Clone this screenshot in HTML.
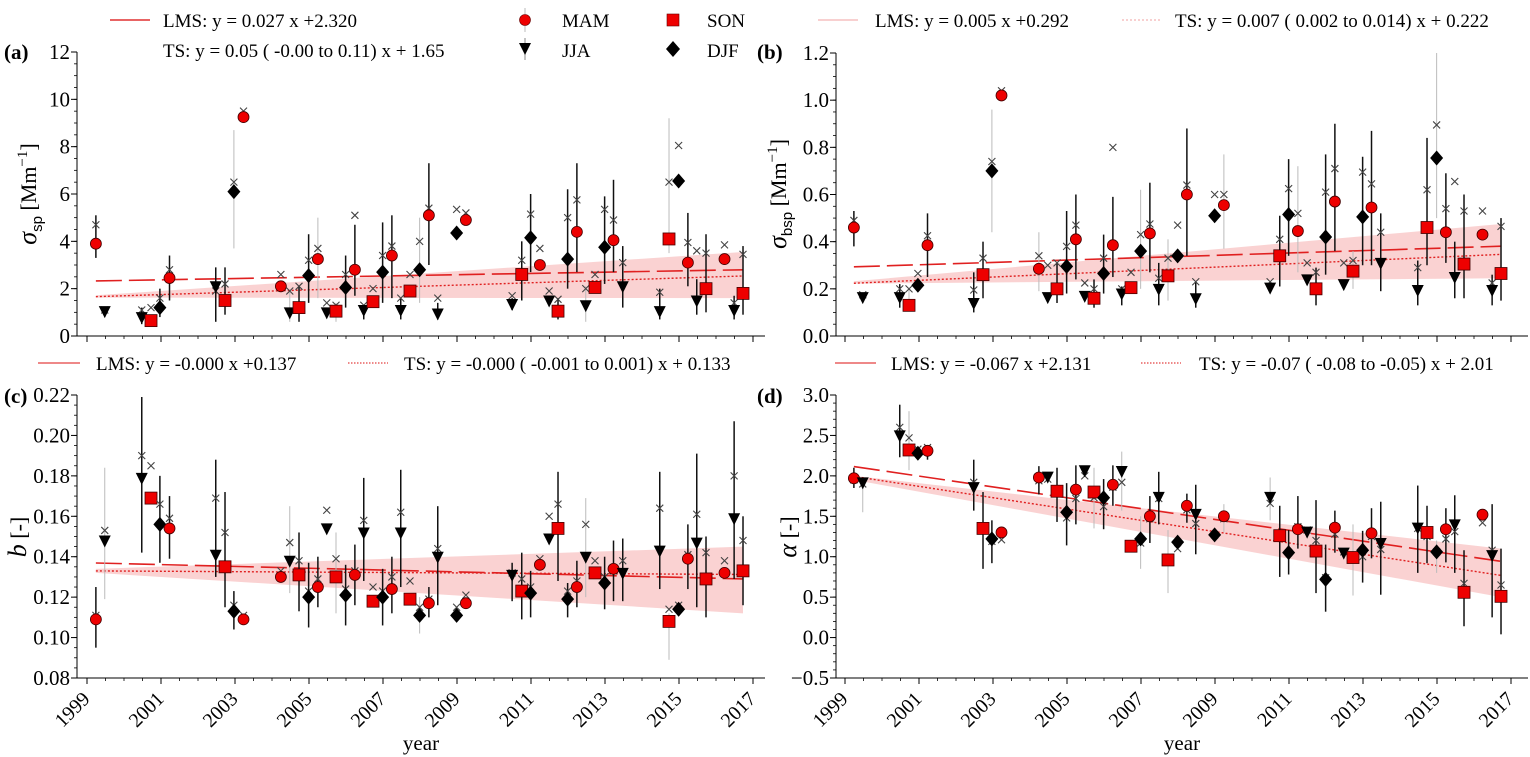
<!DOCTYPE html>
<html><head><meta charset="utf-8"><style>
html,body{margin:0;padding:0;background:#fff;}
svg{display:block;font-family:"Liberation Serif",serif;}
</style></head><body>
<svg id="fig" width="1530" height="757" viewBox="0 0 1530 757" xmlns="http://www.w3.org/2000/svg">
<g font-size="19">
 <line x1="110" y1="20" x2="150" y2="20" stroke="#e03030" stroke-width="1.5"/>
 <text x="163" y="27">LMS: y = 0.027 x +2.320</text>
 <text x="163" y="57">TS: y = 0.05 ( -0.00 to  0.11) x + 1.65</text>
 <line x1="525" y1="8" x2="525" y2="32" stroke="#bbb" stroke-width="1"/>
 <circle cx="525" cy="20" r="5.5" fill="#e00" stroke="#600" stroke-width="0.6"/>
 <text x="562" y="27">MAM</text>
 <line x1="525" y1="38" x2="525" y2="60" stroke="#888" stroke-width="1"/>
 <path d="M519,43 L531,43 L525,55 Z" fill="#000"/>
 <text x="562" y="57">JJA</text>
 <rect x="667" y="14" width="12" height="12" fill="#e00" stroke="#600" stroke-width="0.6"/>
 <text x="707" y="27">SON</text>
 <path d="M673,41 L680,49 L673,57 L666,49 Z" fill="#000"/>
 <text x="707" y="57">DJF</text>
 <line x1="818" y1="20" x2="858" y2="20" stroke="#f2a0a0" stroke-width="1"/>
 <text x="875" y="27">LMS: y = 0.005 x +0.292</text>
 <line x1="1122" y1="20" x2="1162" y2="20" stroke="#f2a0a0" stroke-width="1" stroke-dasharray="2,2"/>
 <text x="1175" y="27">TS: y = 0.007 ( 0.002 to  0.014) x + 0.222</text>
 <line x1="38" y1="363" x2="80" y2="363" stroke="#e88" stroke-width="2"/>
 <text x="96" y="370">LMS: y = -0.000 x +0.137</text>
 <line x1="348" y1="363" x2="388" y2="363" stroke="#e88" stroke-width="2" stroke-dasharray="1.5,1.5"/>
 <text x="404" y="370">TS: y = -0.000 ( -0.001 to  0.001) x + 0.133</text>
 <line x1="835" y1="363" x2="876" y2="363" stroke="#e88" stroke-width="2"/>
 <text x="891" y="370">LMS: y = -0.067 x +2.131</text>
 <line x1="1141" y1="363" x2="1181" y2="363" stroke="#e88" stroke-width="2" stroke-dasharray="1.5,1.5"/>
 <text x="1199" y="370">TS: y = -0.07 ( -0.08 to  -0.05) x + 2.01</text>
</g>
<g font-size="21" font-weight="bold">
 <text x="4" y="59">(a)</text>
 <text x="757" y="59">(b)</text>
 <text x="4" y="403">(c)</text>
 <text x="757" y="403">(d)</text>
</g>
<text transform="translate(36,194) rotate(-90)" text-anchor="middle" font-size="22"><tspan font-style="italic" font-size="26">σ</tspan><tspan font-size="15" dy="6" font-family="Liberation Sans,sans-serif">sp</tspan><tspan dy="-6"> [Mm</tspan><tspan font-size="15" dy="-9">−1</tspan><tspan dy="9">]</tspan></text>
<text transform="translate(786,194) rotate(-90)" text-anchor="middle" font-size="22"><tspan font-style="italic" font-size="26">σ</tspan><tspan font-size="15" dy="6" font-family="Liberation Sans,sans-serif">bsp</tspan><tspan dy="-6"> [Mm</tspan><tspan font-size="15" dy="-9">−1</tspan><tspan dy="9">]</tspan></text>
<text transform="translate(26,537) rotate(-90)" text-anchor="middle" font-size="22"><tspan font-style="italic" font-size="26">b</tspan> [-]</text>
<text transform="translate(796,537) rotate(-90)" text-anchor="middle" font-size="22"><tspan font-style="italic" font-size="26">α</tspan> [-]</text>
<text x="421" y="750" text-anchor="middle" font-size="21">year</text>
<text x="1182" y="750" text-anchor="middle" font-size="21">year</text>
</svg>
<script>
const years=[1999.24,1999.48,2000.48,2000.73,2000.97,2001.23,2002.48,2002.73,2002.97,2003.23,2004.24,2004.48,2004.73,2004.99,2005.24,2005.48,2005.73,2005.99,2006.24,2006.48,2006.73,2006.99,2007.24,2007.48,2007.73,2007.99,2008.24,2008.48,2008.99,2009.24,2010.49,2010.75,2010.99,2011.24,2011.49,2011.73,2011.99,2012.24,2012.48,2012.73,2012.99,2013.23,2013.48,2014.48,2014.73,2014.99,2015.24,2015.48,2015.73,2016.23,2016.49,2016.73];
const seasons=["MAM","JJA","JJA","SON","DJF","MAM","JJA","SON","DJF","MAM","MAM","JJA","SON","DJF","MAM","JJA","SON","DJF","MAM","JJA","SON","DJF","MAM","JJA","SON","DJF","MAM","JJA","DJF","MAM","JJA","SON","DJF","MAM","JJA","SON","DJF","MAM","JJA","SON","DJF","MAM","JJA","JJA","SON","DJF","MAM","JJA","SON","MAM","JJA","SON"];
const xTickYears=[1999,2001,2003,2005,2007,2009,2011,2013,2015,2017];

const aVal=[3.9,1.05,0.8,0.65,1.2,2.45,2.1,1.5,6.1,9.25,2.1,1.0,1.2,2.55,3.25,1.0,1.05,2.05,2.8,1.1,1.45,2.7,3.4,1.1,1.9,2.8,5.1,0.95,4.35,4.9,1.35,2.6,4.15,3.0,1.5,1.05,3.25,4.4,1.3,2.05,3.75,4.05,2.1,1.05,4.1,6.55,3.1,1.5,2.0,3.25,1.1,1.8];
const aLo=[3.3,0.8,0.5,0.55,0.8,1.5,0.6,0.9,3.7,9.25,1.9,0.6,0.6,1.4,1.6,0.9,0.6,1.2,1.7,0.7,1.3,1.4,1.6,0.7,1.7,1.4,3.0,0.7,4.35,4.8,1.1,1.5,2.7,2.9,1.4,0.7,2.0,2.7,0.6,1.9,2.2,2.7,1.2,0.7,3.5,6.55,2.1,0.9,1.0,3.15,0.7,0.9];
const aHi=[5.1,1.2,1.2,0.8,2.0,3.4,2.9,2.9,8.7,9.25,2.3,1.9,2.1,4.3,5.0,1.1,1.4,3.4,4.7,1.3,1.6,4.8,5.1,1.6,2.1,5.0,7.3,1.4,4.35,5.0,1.6,4.0,6.0,3.1,1.6,1.6,6.2,7.3,2.1,2.2,5.9,6.6,3.8,2.0,9.2,6.55,5.2,2.4,4.3,3.35,1.7,3.8];
const aCross=[4.7,1.1,1.1,1.2,1.6,2.8,1.9,2.2,6.5,9.5,2.6,1.9,2.1,3.2,3.7,1.4,1.3,2.6,5.1,1.3,2.0,3.4,3.8,1.6,2.6,4.0,5.4,1.6,5.35,5.2,1.7,3.2,5.15,3.7,1.9,1.55,5.0,5.75,2.0,2.6,5.35,4.9,3.1,1.85,6.5,8.05,3.95,3.6,3.5,3.85,1.4,3.45];
const aGray=[9,12,15,17,26,39,45];
const aBand=[1.62,1.72,1.6,3.55];
const aFit=[0.027,2.320,0.05,1.65];

const bVal=[0.46,0.165,0.165,0.13,0.215,0.385,0.14,0.26,0.7,1.02,0.285,0.165,0.2,0.295,0.41,0.17,0.16,0.265,0.385,0.18,0.205,0.36,0.435,0.2,0.255,0.34,0.6,0.16,0.51,0.555,0.205,0.34,0.515,0.445,0.24,0.2,0.42,0.57,0.22,0.275,0.505,0.545,0.31,0.195,0.46,0.755,0.44,0.25,0.305,0.43,0.195,0.265];
const bLo=[0.38,0.155,0.12,0.13,0.2,0.25,0.1,0.16,0.44,1.01,0.19,0.16,0.14,0.18,0.24,0.16,0.12,0.18,0.25,0.13,0.19,0.2,0.27,0.13,0.15,0.33,0.34,0.12,0.5,0.37,0.19,0.21,0.34,0.27,0.23,0.13,0.26,0.36,0.21,0.2,0.3,0.3,0.19,0.13,0.3,0.5,0.31,0.16,0.16,0.42,0.13,0.15];
const bHi=[0.53,0.18,0.22,0.2,0.23,0.52,0.27,0.4,0.96,1.03,0.44,0.17,0.31,0.53,0.6,0.18,0.24,0.43,0.59,0.21,0.22,0.62,0.65,0.31,0.41,0.35,0.88,0.23,0.52,0.77,0.22,0.51,0.75,0.72,0.25,0.29,0.77,0.9,0.23,0.36,0.76,0.87,0.52,0.32,0.84,1.2,0.69,0.4,0.6,0.44,0.26,0.5];
const bCross=[0.49,0.175,0.2,0.2,0.265,0.425,0.195,0.33,0.74,1.04,0.34,0.3,0.31,0.38,0.47,0.225,0.2,0.33,0.8,0.2,0.27,0.43,0.475,0.245,0.33,0.47,0.64,0.23,0.6,0.6,0.23,0.41,0.625,0.52,0.31,0.27,0.61,0.71,0.31,0.32,0.695,0.645,0.44,0.29,0.62,0.895,0.54,0.655,0.53,0.53,0.225,0.465];
const bGray=[4,9,11,22,25,30,31,34,40,46];
const bBand=[0.222,0.232,0.245,0.475];
const bFit=[0.005,0.292,0.007,0.222];

const cVal=[0.109,0.148,0.179,0.169,0.156,0.154,0.141,0.135,0.113,0.109,0.130,0.138,0.131,0.120,0.125,0.154,0.130,0.121,0.131,0.152,0.118,0.120,0.124,0.152,0.119,0.111,0.117,0.140,0.111,0.117,0.131,0.123,0.122,0.136,0.149,0.154,0.119,0.125,0.140,0.132,0.127,0.134,0.132,0.143,0.108,0.114,0.139,0.147,0.129,0.132,0.159,0.133];
const cLo=[0.095,0.119,0.142,0.168,0.137,0.139,0.13,0.115,0.104,0.108,0.129,0.122,0.113,0.105,0.115,0.153,0.112,0.106,0.116,0.128,0.117,0.106,0.112,0.125,0.118,0.102,0.11,0.116,0.110,0.116,0.118,0.109,0.11,0.135,0.148,0.128,0.11,0.115,0.12,0.131,0.114,0.118,0.118,0.124,0.089,0.113,0.124,0.115,0.11,0.131,0.129,0.116];
const cHi=[0.125,0.184,0.219,0.170,0.18,0.17,0.188,0.172,0.123,0.110,0.131,0.165,0.152,0.137,0.14,0.155,0.152,0.136,0.146,0.179,0.119,0.134,0.14,0.183,0.120,0.12,0.125,0.165,0.112,0.118,0.137,0.142,0.133,0.137,0.150,0.182,0.127,0.138,0.169,0.133,0.14,0.148,0.149,0.182,0.112,0.115,0.156,0.191,0.15,0.133,0.207,0.16];
const cCross=[0.111,0.153,0.19,0.185,0.166,0.159,0.169,0.152,0.116,0.111,0.133,0.147,0.138,0.123,0.129,0.163,0.139,0.124,0.133,0.158,0.125,0.123,0.13,0.162,0.128,0.115,0.119,0.144,0.115,0.121,0.132,0.129,0.125,0.139,0.160,0.166,0.123,0.128,0.156,0.138,0.130,0.133,0.138,0.164,0.114,0.116,0.141,0.161,0.142,0.138,0.18,0.148];
const cGray=[2,12,17,26,39,45];
const cBand=[0.132,0.134,0.112,0.145];
const cFit=[-0.00045,0.137,-0.0001,0.133];

const dVal=[1.97,1.92,2.5,2.32,2.28,2.31,1.86,1.35,1.22,1.3,1.98,1.99,1.81,1.55,1.83,2.07,1.8,1.73,1.89,2.06,1.13,1.22,1.5,1.74,0.96,1.18,1.63,1.53,1.27,1.5,1.74,1.26,1.05,1.34,1.31,1.07,0.72,1.36,1.05,0.99,1.08,1.29,1.17,1.36,1.3,1.06,1.34,1.4,0.56,1.52,1.02,0.51];
const dLo=[1.85,1.55,2.23,2.07,2.27,2.2,1.57,0.85,0.92,1.29,1.77,1.98,1.43,1.14,1.4,2.06,1.35,1.34,1.63,1.57,1.12,0.85,1.17,1.4,0.55,1.17,1.42,1.03,1.26,1.3,1.45,0.75,0.78,1.1,1.3,0.55,0.32,1.05,1.04,0.52,0.68,0.98,0.53,0.8,0.92,0.8,0.93,0.8,0.14,1.51,0.25,0.04];
const dHi=[2.1,1.95,2.88,2.8,2.29,2.37,2.2,1.8,1.45,1.31,2.12,2.0,2.1,1.91,2.13,2.08,2.1,1.96,2.13,2.3,1.14,1.5,1.75,2.05,1.33,1.19,1.78,1.89,1.28,1.65,1.98,1.63,1.33,1.75,1.32,1.7,1.15,1.57,1.06,1.4,1.32,1.6,1.68,1.88,1.63,1.2,1.6,1.76,1.08,1.53,1.65,1.1];
const dCross=[1.95,1.9,2.6,2.47,2.33,2.35,1.92,1.37,1.19,1.21,1.94,1.96,1.8,1.48,1.72,2.0,1.73,1.62,1.86,1.92,1.13,1.17,1.47,1.72,0.95,1.1,1.58,1.41,1.27,1.47,1.66,1.27,1.05,1.37,1.33,1.2,0.74,1.28,1.06,1.02,1.0,1.25,1.09,1.35,1.25,1.06,1.22,1.31,0.67,1.42,1.08,0.65];
const dGray=[2,4,17,20,22,25,30,31,40,46];
const dBand=[1.95,2.0,0.5,1.1];
const dFit=[-0.067,2.131,-0.07,2.01];

const NS="http://www.w3.org/2000/svg";
const svg=document.getElementById('fig');
function mk(tag,attrs,parent){const e=document.createElementNS(NS,tag);for(const k in attrs)e.setAttribute(k,attrs[k]);(parent||svg).appendChild(e);return e;}

function panel(id,geo,vals,lo,hi,cross,gray,band,fit,yTicks,fmt,minorStep,showX){
  const g=mk('g',{});
  
  
  const xs=yr=>geo.x0+37*(yr-1999);
  const ys=v=>geo.yb+(v-geo.vmin)/(geo.vmax-geo.vmin)*(geo.yt-geo.yb);
  const t0=years[0],t1=years[years.length-1];
  const bp=mk('path',{d:`M${xs(t0)},${ys(band[0])} L${xs(t1)},${ys(band[2])} L${xs(t1)},${ys(band[3])} L${xs(t0)},${ys(band[1])} Z`,fill:'#f7b4b4','fill-opacity':0.6,stroke:'none'},g);
  
  
  const f=(s,b,yr)=>b+s*(yr-1999);
  const l1=mk('line',{x1:xs(t0),y1:ys(f(fit[0],fit[1],t0)),x2:xs(t1),y2:ys(f(fit[0],fit[1],t1)),stroke:'#e02020','stroke-width':1.6,'stroke-dasharray':'26,7'},g);
  
  
  const l2=mk('line',{x1:xs(t0),y1:ys(f(fit[2],fit[3],t0)),x2:xs(t1),y2:ys(f(fit[2],fit[3],t1)),stroke:'#e02020','stroke-width':1.4,'stroke-dasharray':'2,2'},g);
  
  
  const ax=mk('path',{d:`M${geo.axL},${geo.yt} L${geo.axL},${geo.yb} L${geo.axR},${geo.yb}`,fill:'none',stroke:'#000','stroke-width':1},g);
  
  
  yTicks.forEach(v=>{
    const y=ys(v);
    mk('line',{x1:geo.axL-6,y1:y,x2:geo.axL,y2:y,stroke:'#000'},g);
    const t=mk('text',{x:geo.axL-7,y:y+7,'text-anchor':'end','font-size':21},g);
    t.textContent=fmt(v);
    
    
  });
  for(let v=geo.vmin;v<=geo.vmax+1e-9;v+=minorStep){mk('line',{x1:geo.axL-3,y1:ys(v),x2:geo.axL,y2:ys(v),stroke:'#000','stroke-width':0.8},g);}
  for(let yr=1999;yr<=2017.01;yr+=0.5){const maj=Math.abs(yr-Math.round(yr))<0.01&&Math.round(yr)%2===1;mk('line',{x1:xs(yr),y1:geo.yb,x2:xs(yr),y2:geo.yb+(maj?6:3),stroke:'#000','stroke-width':maj?1:0.8},g);}
  if(showX){
    xTickYears.forEach(yr=>{
      const x=xs(yr),y=geo.yb+10;
      const t=mk('text',{x:x+4,y:y+12,'text-anchor':'end','font-size':20,transform:`rotate(-45 ${x+4} ${y+12})`},g);
      t.textContent=yr;
      
      
    });
  }
  vals.forEach((v,i)=>{
    const x=xs(years[i]);
    const isGray=gray.indexOf(i+1)>=0;
    if(hi[i]-lo[i]>0){
      const eb=mk('line',{x1:x,y1:ys(lo[i]),x2:x,y2:ys(hi[i]),stroke:isGray?'#bbb':'#111','stroke-width':isGray?1:1.5},g);
      
      
    }
    const cy=ys(cross[i]);
    const cr=mk('path',{d:`M${x-3.5},${cy-3.5} L${x+3.5},${cy+3.5} M${x-3.5},${cy+3.5} L${x+3.5},${cy-3.5}`,stroke:'#444','stroke-width':1.1},g);
    
    
    const y=ys(v);let m;const s=seasons[i];
    if(s==='MAM')m=mk('circle',{cx:x,cy:y,r:5.5,fill:'#e00',stroke:'#400','stroke-width':0.8},g);
    else if(s==='SON')m=mk('rect',{x:x-6,y:y-6,width:12,height:12,fill:'#e00',stroke:'#400','stroke-width':0.8},g);
    else if(s==='JJA')m=mk('path',{d:`M${x-6},${y-5} L${x+6},${y-5} L${x},${y+7} Z`,fill:'#000'},g);
    else m=mk('path',{d:`M${x},${y-7.5} L${x+6.5},${y} L${x},${y+7.5} L${x-6.5},${y} Z`,fill:'#000'},g);
    
    
  });
}
const r1=v=>v.toFixed(1).replace('-','−');
panel('a',{x0:87,axL:77,axR:765,yt:52,yb:336,vmin:0,vmax:12},aVal,aLo,aHi,aCross,aGray,aBand,aFit,[0,2,4,6,8,10,12],v=>String(v),0.5,false);
panel('b',{x0:845,axL:836,axR:1528,yt:53,yb:336,vmin:0,vmax:1.2},bVal,bLo,bHi,bCross,bGray,bBand,bFit,[0,0.2,0.4,0.6,0.8,1.0,1.2],r1,0.05,false);
panel('c',{x0:87,axL:77,axR:765,yt:395,yb:678,vmin:0.08,vmax:0.22},cVal,cLo,cHi,cCross,cGray,cBand,cFit,[0.08,0.10,0.12,0.14,0.16,0.18,0.20,0.22],v=>v.toFixed(2),0.005,true);
panel('d',{x0:845,axL:836,axR:1528,yt:395,yb:678,vmin:-0.5,vmax:3.0},dVal,dLo,dHi,dCross,dGray,dBand,dFit,[-0.5,0,0.5,1.0,1.5,2.0,2.5,3.0],r1,0.1,true);
</script>
</body></html>
